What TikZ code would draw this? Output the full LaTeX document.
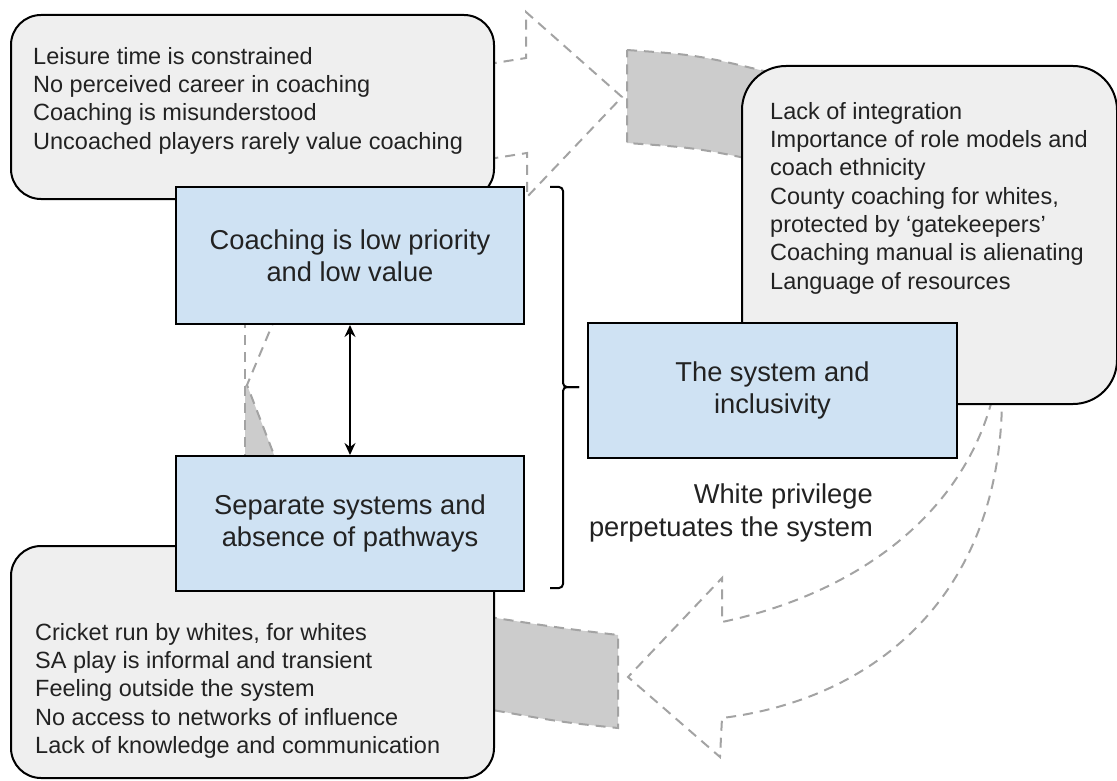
\documentclass[tikz,border=0pt]{standalone}
\usepackage{fontspec}
\setmainfont{Liberation Sans}
\usetikzlibrary{arrows.meta}
\definecolor{boxgray}{HTML}{EFEFEF}
\definecolor{boxblue}{HTML}{CFE2F3}
\definecolor{dashgray}{HTML}{A3A3A3}
\definecolor{shadegray}{HTML}{CCCCCC}
\definecolor{txt}{HTML}{222222}
\begin{document}
\begin{tikzpicture}[x=1pt,y=-1pt,
  dashline/.style={draw=dashgray, line width=2pt, dash pattern=on 10pt off 7pt},
  shadepart/.style={dashline, fill=shadegray},
  graybox/.style={draw=black, line width=2pt, fill=boxgray, rounded corners=30pt, anchor=north west, inner sep=0pt},
  bluebox/.style={draw=black, line width=2pt, fill=boxblue, anchor=north west, inner sep=0pt, text=txt, align=center, font=\fontsize{27.3}{32}\selectfont},
  listtext/.style={anchor=north west, inner sep=0pt, align=left, text=txt, font=\fontsize{23.5}{28.3}\selectfont},
  bigtext/.style={inner sep=0pt, text=txt, font=\fontsize{27.3}{33}\selectfont}]
\useasboundingbox (0,0) rectangle (1117,781);
% ---- dashed curved arrows (behind the boxes)
% top arrow
\draw[dashline] (470,67) -- (526,58) -- (526,12) -- (622,97) -- (527,197) -- (527,153) -- (470,162);
% shaded piece near the right box
\draw[shadepart] (627,50) .. controls (700,55) .. (800,80) -- (800,170) .. controls (700,148) .. (627,143) -- cycle;
% right arrow, coming down and pointing left
\draw[dashline] (992,400) .. controls (960,520) and (850,595) .. (722,622) -- (722,578) -- (628,677) -- (720,757) -- (722,718) .. controls (870,700) and (1000,600) .. (1002,400);
% shaded piece near the bottom-left box
\draw[shadepart] (470,614) .. controls (560,628) .. (618,635) -- (618,728) .. controls (560,722) .. (470,706) -- cycle;
% left arrow fragments between the blue boxes
\fill[shadegray] (245,385) -- (247,385) -- (276,460) -- (245,460) -- cycle;
\draw[dashline] (245,318) -- (245,460);
\draw[dashline] (276,316) -- (247,385) -- (276,460);
% ---- grey boxes
\node[graybox, minimum width=483pt, minimum height=184pt] (tl) at (10,14) {};
\node[graybox, minimum width=483pt, minimum height=232pt] (bl) at (10,545) {};
\node[graybox, rounded corners=44pt, minimum width=375pt, minimum height=338pt] (rb) at (741,65) {};
% ---- list texts
\node[listtext] (tltext) at (33,47) {Leisure time is constrained\\No perceived career in coaching\\Coaching is misunderstood\\Uncoached players rarely value coaching};
\node[listtext] (bltext) at (35,623) {Cricket run by whites, for whites\\SA play is informal and transient\\Feeling outside the system\\No access to networks of influence\\Lack of knowledge and communication};
\node[listtext] (rbtext) at (770,102) {Lack of integration\\Importance of role models and\\coach ethnicity\\County coaching for whites,\\protected by ‘gatekeepers’\\Coaching manual is alienating\\Language of resources};
% ---- blue boxes
\node[bluebox, minimum width=348pt, minimum height=137pt] (b1) at (175,186) {Coaching is low priority\\and low value};
\node[bluebox, minimum width=348pt, minimum height=135pt] (b2) at (175,455) {Separate systems and\\absence of pathways};
\node[bluebox, minimum width=369pt, minimum height=135pt] (b3) at (587,322) {The system and\\inclusivity};
% ---- double arrow
\draw[line width=2pt, {Stealth[length=12pt,width=11pt,inset=4pt]}-{Stealth[length=12pt,width=11pt,inset=4pt]}] (b1.south) -- (b2.north);
% ---- bracket
\coordinate (brtop) at (550,187);
\coordinate (brbot) at (550,588);
\coordinate (brtip) at (579,387);
\draw[line width=2pt, rounded corners=4pt] (brtop) -- (563,187) -- (563,387) -- (brtip);
\draw[line width=2pt, rounded corners=4pt] (brbot) -- (563,588) -- (563,387) -- (brtip);
% ---- caption
\node[bigtext, anchor=east, align=right] (wp) at (873,513) {White privilege\\perpetuates the system};
\end{tikzpicture}
\end{document}
